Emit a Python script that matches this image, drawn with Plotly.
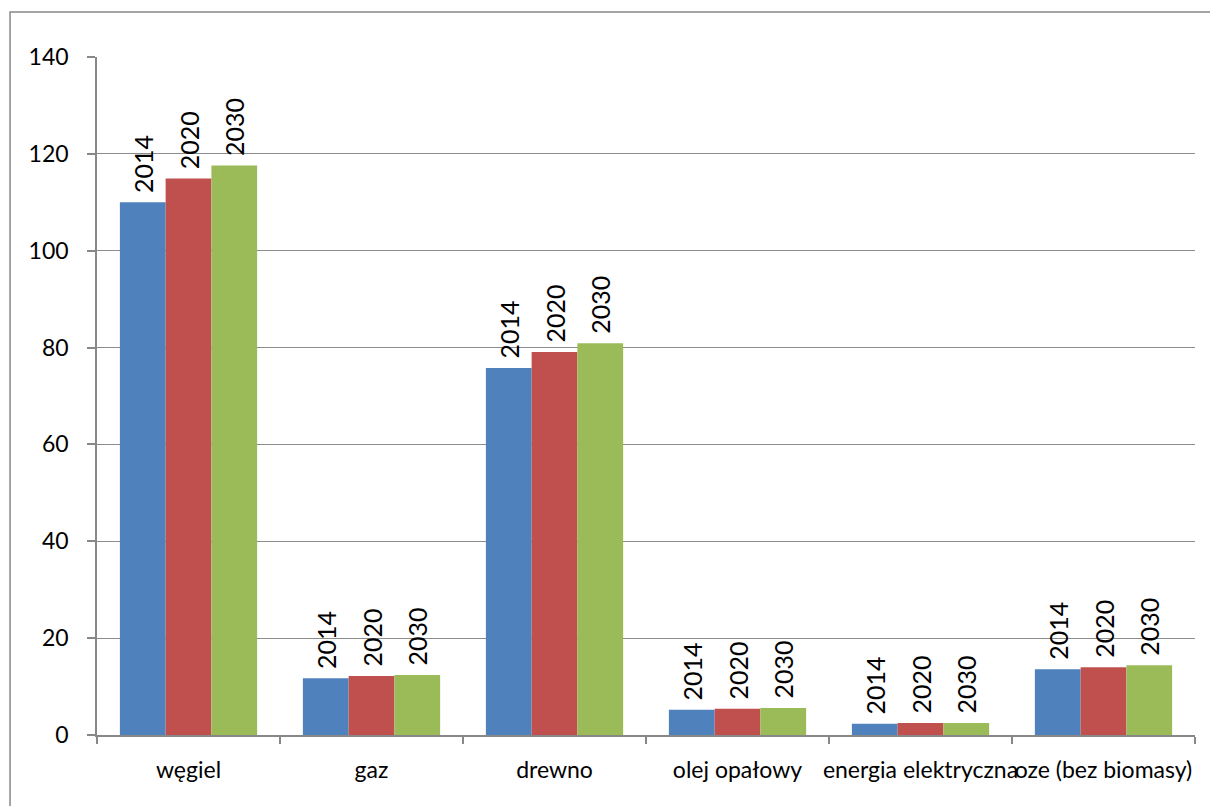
import plotly.graph_objects as go

# categories and series
categories = ["węgiel", "gaz", "drewno", "olej opałowy", "energia elektryczna", "oze (bez biomasy)"]
series_names = ["2014", "2020", "2030"]
values_2014 = [110.0, 11.7, 75.8, 5.2, 2.3, 13.6]
values_2020 = [114.9, 12.2, 79.1, 5.4, 2.5, 14.0]
values_2030 = [117.6, 12.4, 80.9, 5.6, 2.5, 14.4]
y_ticks = [0, 20, 40, 60, 80, 100, 120, 140]

colors = ["#4F81BD", "#C0504D", "#9BBB59"]
font_family = "Lato"

fig = go.Figure()

for name, vals, col in zip(series_names, [values_2014, values_2020, values_2030], colors):
    fig.add_trace(
        go.Bar(
            x=categories,
            y=vals,
            name=name,
            marker_color=col,
            marker_line_width=0,
            text=["\u00a0" + name] * len(vals),
            textposition="outside",
            textangle=-90,
            constraintext="none",
            cliponaxis=False,
            textfont=dict(family=font_family, size=25, color="black"),
        )
    )

# page body has an 8px margin, so the figure is drawn a little smaller
fig.update_layout(
    width=1210,
    height=798,
    barmode="group",
    bargap=0.25,
    bargroupgap=0,
    showlegend=False,
    plot_bgcolor="white",
    paper_bgcolor="white",
    margin=dict(l=89, r=23, t=49, b=71),
    font=dict(family=font_family, size=23, color="black"),
    xaxis=dict(
        tickangle=0,
        tickson="boundaries",
        ticks="outside",
        ticklen=7,
        tickcolor="#888888",
        tickwidth=1.5,
        showline=True,
        linecolor="#888888",
        linewidth=1.5,
        showgrid=False,
        ticklabelstandoff=14,
    ),
    yaxis=dict(
        range=[0, 140],
        tickvals=y_ticks,
        ticks="outside",
        ticklen=8,
        tickcolor="#888888",
        tickwidth=1.5,
        showline=True,
        linecolor="#888888",
        linewidth=1.5,
        showgrid=True,
        gridcolor="#8c8c8c",
        gridwidth=1.3,
        zeroline=False,
        ticklabelstandoff=14,
    ),
)

# outer chart border
fig.add_shape(
    type="rect",
    xref="paper",
    yref="paper",
    x0=-0.0792,
    x1=1.05,
    y0=-0.2,
    y1=1.0664,
    line=dict(color="#888888", width=1.5),
    fillcolor="rgba(0,0,0,0)",
    layer="below",
)

fig.write_html("out.html")
